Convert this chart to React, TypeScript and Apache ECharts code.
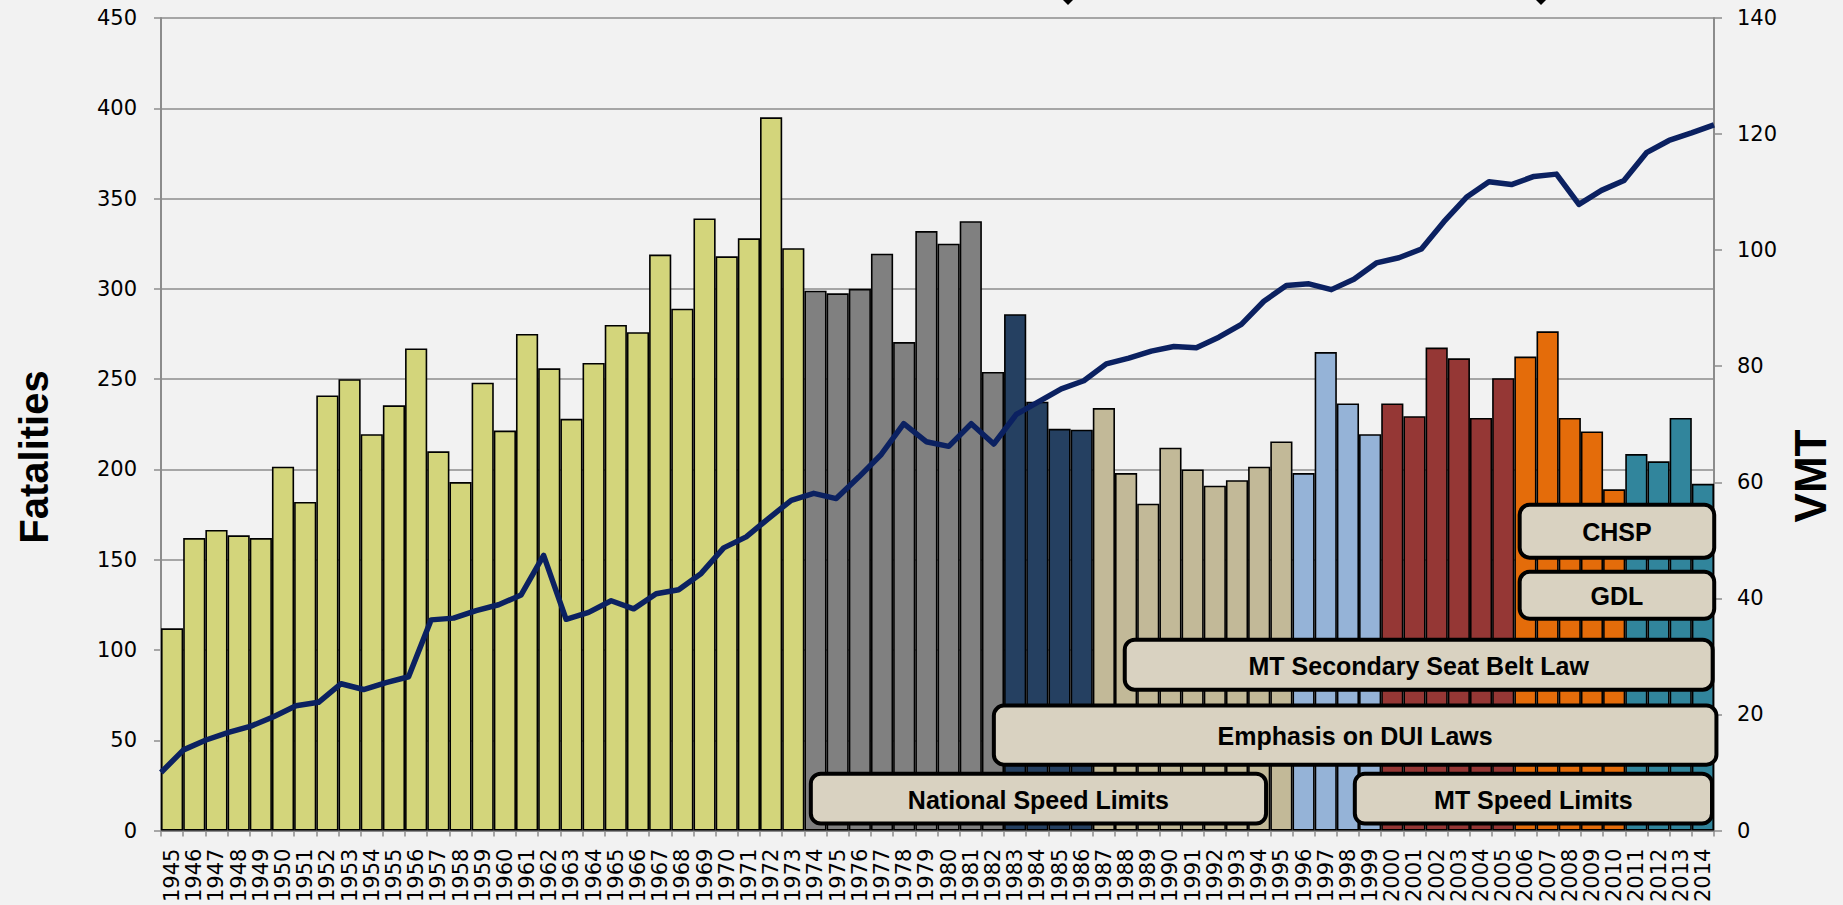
import React, { useEffect, useRef } from "react";
import * as echarts from "echarts";

const years: string[] = [];
for (let y = 1945; y <= 2014; y++) years.push(String(y));

const fatalities = [
  112, 162, 166.5, 163.5, 162, 201.5, 182, 241, 250, 219.5,
  235.5, 267, 210, 193, 248, 221.5, 275, 256, 228, 259,
  280, 276, 319, 289, 339, 318, 328, 395, 322.5, 299,
  297.5, 300, 319.5, 270.5, 332, 325, 337.5, 254, 286, 237.5,
  222.5, 222, 234, 198, 181, 212, 200, 191, 194, 201.5,
  215.5, 198, 265, 236.5, 219.5, 236.5, 229.5, 267.5, 261.5, 228.5,
  250.5, 262.5, 276.5, 228.5, 221, 189, 208.5, 204.5, 228.5, 192,
];

const vmt = [
  10.0, 13.9, 15.6, 16.9, 18.0, 19.6, 21.5, 22.1, 25.3, 24.3,
  25.5, 26.5, 36.3, 36.6, 37.9, 38.9, 40.6, 47.4, 36.4, 37.6,
  39.6, 38.2, 40.8, 41.5, 44.3, 48.7, 50.6, 53.8, 56.9, 58.1,
  57.2, 60.9, 64.8, 70.1, 67.0, 66.2, 70.1, 66.6, 71.7, 73.9,
  76.1, 77.5, 80.4, 81.4, 82.6, 83.4, 83.2, 85.0, 87.2, 91.2,
  93.9, 94.2, 93.2, 95.0, 97.8, 98.7, 100.2, 104.9, 109.1, 111.8,
  111.3, 112.7, 113.1, 107.9, 110.3, 112.0, 116.8, 118.9, 120.2, 121.6,
];

const eraStartYears = [1945, 1974, 1983, 1987, 1996, 2000, 2006, 2011];
const eraColors = ["#D3D57B", "#808080", "#254061", "#C2B998", "#95B3D7", "#953735", "#E46C0A", "#31859C"];

const leftTicks = [0, 450, 50];
const rightTicks = [0, 140, 20];

const boxLabels = ["National Speed Limits", "Emphasis on DUI Laws", "MT Secondary Seat Belt Law", "MT Speed Limits", "GDL", "CHSP"];
const boxFrom = [1974.2, 1982.45, 1988.35, 1998.72, 2006.15, 2006.15];
const boxTo = [1994.9, 2015.2, 2015.03, 2015.0, 2015.1, 2015.1];
const boxLow = [2.8, 35.4, 76.9, 2.8, 116.2, 150];
const boxHigh = [32.6, 70.3, 106.8, 32.6, 144.4, 181.5];

function colorFor(year: number): string {
  let c = eraColors[0];
  for (let i = 0; i < eraStartYears.length; i++) if (year >= eraStartYears[i]) c = eraColors[i];
  return c;
}

const AXIS_GRAY = "#8c8c8c";
const TICK_FONT = "DejaVu Sans";

export default function App() {
  const ref = useRef<HTMLDivElement>(null);
  useEffect(() => {
    document.body.style.margin = "0";
    document.body.style.background = "#f2f2f2";
    const chart = echarts.init(ref.current!, null, { renderer: "svg" });
    const option: any = {
      animation: false,
      backgroundColor: "#f2f2f2",
      grid: { left: 161, right: 129, top: 18, bottom: 74, containLabel: false },
      xAxis: [
        {
          type: "category",
          data: years,
          position: "bottom",
          boundaryGap: true,
          axisLine: { show: true, lineStyle: { color: AXIS_GRAY, width: 2 } },
          axisTick: { show: true, interval: 0, length: 6, lineStyle: { color: AXIS_GRAY, width: 1.5 } },
          axisLabel: { interval: 0, rotate: 90, margin: 18, fontSize: 21, fontFamily: TICK_FONT, color: "#000" },
          splitLine: { show: false },
        },
        {
          type: "category",
          data: years,
          position: "top",
          boundaryGap: false,
          axisLine: { show: true, lineStyle: { color: AXIS_GRAY, width: 2 } },
          axisTick: { show: true, interval: 9, length: 8, lineStyle: { color: AXIS_GRAY, width: 1.5 } },
          axisLabel: { show: false },
          splitLine: { show: false },
        },
      ],
      yAxis: [
        {
          type: "value",
          position: "left",
          min: leftTicks[0],
          max: leftTicks[1],
          interval: leftTicks[2],
          axisLine: { show: true, lineStyle: { color: AXIS_GRAY, width: 2 } },
          axisTick: { show: true, length: 7, lineStyle: { color: AXIS_GRAY, width: 1.5 } },
          axisLabel: { margin: 24, fontSize: 21, fontFamily: TICK_FONT, color: "#000" },
          splitLine: { show: true, lineStyle: { color: AXIS_GRAY, width: 1.5 } },
        },
        {
          type: "value",
          position: "right",
          min: rightTicks[0],
          max: rightTicks[1],
          interval: rightTicks[2],
          axisLine: { show: true, lineStyle: { color: AXIS_GRAY, width: 2 } },
          axisTick: { show: true, length: 8, lineStyle: { color: AXIS_GRAY, width: 1.5 } },
          axisLabel: { margin: 23, fontSize: 21, fontFamily: TICK_FONT, color: "#000" },
          splitLine: { show: false },
        },
      ],
      series: [
        {
          type: "bar",
          xAxisIndex: 0,
          yAxisIndex: 0,
          barCategoryGap: "0%",
          z: 2,
          data: fatalities.map((v, i) => ({
            value: v,
            itemStyle: { color: colorFor(1945 + i), borderColor: "#000", borderWidth: 1.6 },
          })),
        },
        {
          type: "line",
          xAxisIndex: 1,
          yAxisIndex: 1,
          data: vmt,
          symbol: "none",
          z: 5,
          lineStyle: { color: "#0B2161", width: 5.5, join: "round" },
        },
        {
          type: "custom",
          xAxisIndex: 0,
          yAxisIndex: 0,
          z: 10,
          clip: false,
          data: boxLabels.map(() => [0, 0]),
          renderItem: (params: any, api: any) => {
            const i = params.dataIndex;
            const p0 = api.coord([0, 0]);
            const p1 = api.coord([1, 0]);
            const step = p1[0] - p0[0];
            const xa = p0[0] + (boxFrom[i] - 1945 - 0.5) * step;
            const xb = p0[0] + (boxTo[i] - 1945 - 0.5) * step;
            const ya = api.coord([0, boxHigh[i]])[1];
            const yb = api.coord([0, boxLow[i]])[1];
            const lw = 4;
            return {
              type: "group",
              children: [
                {
                  type: "rect",
                  shape: { x: xa + lw / 2, y: ya + lw / 2, width: xb - xa - lw, height: yb - ya - lw, r: 10 },
                  style: { fill: "#D9D2C1", stroke: "#000", lineWidth: lw },
                },
                {
                  type: "text",
                  style: {
                    text: boxLabels[i],
                    x: (xa + xb) / 2,
                    y: (ya + yb) / 2 + 1,
                    align: "center",
                    verticalAlign: "middle",
                    fontSize: 25,
                    fontWeight: "bold",
                    fontFamily: "Liberation Sans",
                    fill: "#000",
                  },
                },
              ],
            };
          },
        },
      ],
      graphic: [
        {
          type: "text",
          x: 34,
          y: 457,
          rotation: Math.PI / 2,
          style: {
            text: "Fatalities",
            fontSize: 40,
            fontWeight: "bold",
            fontFamily: "Liberation Sans",
            fill: "#000",
            align: "center",
            verticalAlign: "middle",
          },
        },
        {
          type: "text",
          x: 1810,
          y: 476,
          rotation: Math.PI / 2,
          style: {
            text: "VMT",
            fontSize: 44,
            fontWeight: "bold",
            fontFamily: "Liberation Sans",
            fill: "#000",
            align: "center",
            verticalAlign: "middle",
          },
        },
        {
          type: "polygon",
          shape: { points: [[1063, 0], [1073, 0], [1068, 5]] },
          style: { fill: "#000" },
        },
        {
          type: "polygon",
          shape: { points: [[1536, 0], [1546, 0], [1541, 5]] },
          style: { fill: "#000" },
        },
      ],
    };
    chart.setOption(option);
    return () => chart.dispose();
  }, []);
  return <div ref={ref} style={{ position: "fixed", left: 0, top: 0, width: 1843, height: 905 }} />;
}
